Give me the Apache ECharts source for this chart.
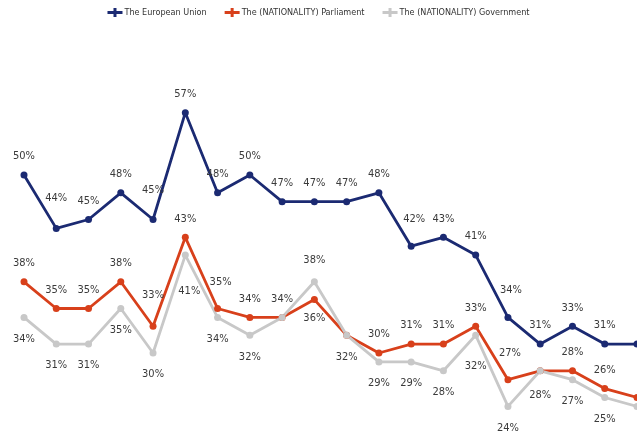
<!DOCTYPE html>
<html>
<head>
<meta charset="utf-8">
<script src="https://cdn.jsdelivr.net/npm/echarts@6/dist/echarts.min.js"></script>
<style>
html,body{margin:0;padding:0;background:#fff;}
#chart{width:637px;height:446px;}
</style>
</head>
<body>
<div id="chart"></div>
<script>
// Data (last category falls outside the visible crop)
const categories = ['1','2','3','4','5','6','7','8','9','10','11','12','13','14','15','16','17','18','19','20'];
const seriesNames = ['The European Union', 'The (NATIONALITY) Parliament', 'The (NATIONALITY) Government'];
const euValues = [50, 44, 45, 48, 45, 57, 48, 50, 47, 47, 47, 48, 42, 43, 41, 34, 31, 33, 31, 31];
const parliamentValues = [38, 35, 35, 38, 33, 43, 35, 34, 34, 36, 32, 30, 31, 31, 33, 27, 28, 28, 26, 25];
const governmentValues = [34, 31, 31, 35, 30, 41, 34, 32, 34, 38, 32, 29, 29, 28, 32, 24, 28, 27, 25, 24];

// Label placement tweaks (styling only)
const euLabelTweaks = {1:{offset:[0,-12]}, 4:{offset:[0,-11]}, 12:{offset:[3,-9]}, 15:{offset:[3,-9]}, 19:{show:false}};
const parlLabelTweaks = {4:{offset:[0,-13]}, 6:{offset:[3,-8]}, 9:{position:'bottom', distance:10}, 10:{show:false}, 15:{offset:[2,-8]}, 16:{show:false}, 19:{show:false}};
const govLabelTweaks = {5:{offset:[4,15]}, 8:{show:false}, 9:{position:'top', distance:13}, 14:{offset:[0,9]}, 16:{offset:[0,3]}, 19:{show:false}};

const colors = ['#1b2a72', '#d8401b', '#c8c8c8'];
const FONT = "'DejaVu Sans Condensed', 'Liberation Sans', sans-serif";
const labelFont = {fontFamily: FONT, fontSize: 11, color:'#3a3a3a'};

function build(values, tweaks) {
  return values.map((v, i) => tweaks[i] ? {value: v, label: tweaks[i]} : v);
}
function makeSeries(name, values, tweaks, color, pos, dist) {
  return {
    name: name, type: 'line', data: build(values, tweaks),
    symbol: 'circle', symbolSize: 7,
    lineStyle: {color: color, width: 2.8},
    itemStyle: {color: color},
    label: Object.assign({show: true, position: pos, distance: dist, formatter: p => p.value + '%'}, labelFont),
    emphasis: {disabled: true},
    animation: false
  };
}

const chart = echarts.init(document.getElementById('chart'));
chart.setOption({
  animation: false,
  color: colors,
  legend: {
    top: 3, left: 'center', itemGap: 18, itemWidth: 15, itemHeight: 9,
    icon: 'path://M0,3H6V0H9V3H15V6H9V9H6V6H0Z',
    textStyle: {fontFamily: FONT, fontSize: 9, color: '#333', padding: [0, 0, 0, -3]},
    data: seriesNames
  },
  grid: {left: 24, right: -19, top: 86, bottom: 4, containLabel: false},
  xAxis: {type: 'category', data: categories, boundaryGap: false, show: false},
  yAxis: {type: 'value', min: 20, max: 60, show: false},
  series: [
    makeSeries(seriesNames[0], euValues, euLabelTweaks, colors[0], 'top', 9.5),
    makeSeries(seriesNames[1], parliamentValues, parlLabelTweaks, colors[1], 'top', 9.5),
    makeSeries(seriesNames[2], governmentValues, govLabelTweaks, colors[2], 'bottom', 12.5)
  ]
});
</script>
</body>
</html>
